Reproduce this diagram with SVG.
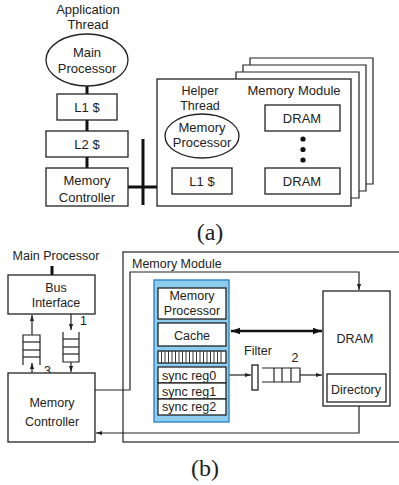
<svg xmlns="http://www.w3.org/2000/svg" width="399" height="485" viewBox="0 0 399 485">
<defs>
<style>
.t{font-family:"Liberation Sans",Arial,sans-serif;fill:#222;}
.a{font-size:13px;text-anchor:middle;}
.b{font-size:12.5px;}
.m{text-anchor:middle;}
.box{fill:#fff;stroke:#222;stroke-width:1.3;}
.ln{fill:none;stroke:#222;stroke-width:1.2;}
.thick{fill:none;stroke:#111;stroke-width:3;}
.cap{font-family:"Liberation Serif","Times New Roman",serif;font-size:24px;fill:#222;text-anchor:middle;}
</style>
<marker id="ah" viewBox="0 0 10 10" refX="10" refY="5" markerWidth="6" markerHeight="6" orient="auto" markerUnits="userSpaceOnUse">
<path d="M0,1.5 L10,5 L0,8.5 z" fill="#222"/>
</marker>
<marker id="ahb" viewBox="0 0 10 10" refX="10" refY="5" markerWidth="9" markerHeight="9" orient="auto-start-reverse" markerUnits="userSpaceOnUse">
<path d="M0,1.5 L10,5 L0,8.5 z" fill="#111"/>
</marker>
</defs>
<rect width="399" height="485" fill="#fff"/>

<!-- (a) connectors -->
<g id="connectors-a">
<line class="thick" x1="87" y1="86" x2="87" y2="94"/>
<line class="thick" x1="87" y1="120" x2="87" y2="131"/>
<line class="thick" x1="87" y1="157" x2="87" y2="168"/>
<line class="thick" x1="128" y1="187" x2="157" y2="187"/>
<line class="thick" x1="143" y1="139" x2="143" y2="205"/>
<line class="thick" x1="202" y1="158" x2="202" y2="168"/>
</g>

<g id="app-thread"><text class="t a" x="88" y="14">Application</text><text class="t a" x="88" y="29">Thread</text></g>
<g id="main-processor-a">
<ellipse cx="87" cy="60" rx="41" ry="26" class="box"/>
<text class="t a" x="87" y="57">Main</text><text class="t a" x="87" y="73">Processor</text>
</g>
<g id="l1-a"><rect class="box" x="57" y="94" width="60" height="26"/><text class="t a" x="87" y="112">L1 $</text></g>
<g id="l2-a"><rect class="box" x="46" y="131" width="82" height="26"/><text class="t a" x="87" y="149">L2 $</text></g>
<g id="memctrl-a"><rect class="box" x="46" y="168" width="82" height="38"/><text class="t a" x="87" y="185">Memory</text><text class="t a" x="87" y="202">Controller</text></g>

<g id="memory-module-a">
<polyline class="ln" points="250,65 250,58 373,58 373,184 366,184"/>
<polyline class="ln" points="243,72 243,65 366,65 366,191 359,191"/>
<polyline class="ln" points="236,79 236,72 359,72 359,198 351,198"/>
<rect class="box" x="157" y="79" width="194" height="127"/>
<text class="t a" x="294" y="95">Memory Module</text>
<text class="t" x="200" y="95" font-size="12.5" text-anchor="middle">Helper</text><text class="t" x="200" y="109.5" font-size="12.5" text-anchor="middle">Thread</text>
<g id="memory-processor-a">
<ellipse cx="202" cy="136" rx="37" ry="22" class="box"/>
<text class="t a" x="202" y="132">Memory</text><text class="t a" x="202" y="147">Processor</text>
</g>
<g id="l1-helper"><rect class="box" x="172" y="168" width="60" height="26"/><text class="t a" x="202" y="186">L1 $</text></g>
<g id="dram-a1"><rect class="box" x="265" y="105" width="75" height="26"/><text class="t a" x="302" y="123">DRAM</text></g>
<circle cx="303" cy="139" r="2.6" fill="#111"/><circle cx="303" cy="149.5" r="2.6" fill="#111"/><circle cx="303" cy="160" r="2.6" fill="#111"/>
<g id="dram-a2"><rect class="box" x="265" y="168" width="75" height="26"/><text class="t a" x="302" y="186">DRAM</text></g>
</g>
<text class="cap" x="210" y="240">(a)</text>

<!-- (b) -->
<g id="memory-module-b">
<rect class="ln" x="123" y="252" width="290" height="190"/>
<text class="t b" x="132" y="268">Memory Module</text>
</g>

<g id="connectors-b">
<line class="thick" x1="52" y1="266" x2="52" y2="275"/>
<line class="ln" x1="32" y1="335" x2="32" y2="315" marker-end="url(#ah)"/>
<line class="ln" x1="32" y1="373" x2="32" y2="363" marker-end="url(#ah)"/>
<line class="ln" x1="71" y1="314" x2="71" y2="330" marker-end="url(#ah)"/>
<line class="ln" x1="71" y1="362" x2="71" y2="372" marker-end="url(#ah)"/>
<polyline class="ln" points="95,390 130,390 130,272 359,272 359,290" marker-end="url(#ah)"/>
<polyline class="ln" points="359,406 359,433 96,433" marker-end="url(#ah)"/>
<line x1="231" y1="331" x2="322" y2="331" stroke="#111" stroke-width="2.5" marker-start="url(#ahb)" marker-end="url(#ahb)"/>
<line class="ln" x1="226" y1="375" x2="251" y2="375" marker-end="url(#ah)"/>
<line class="ln" x1="300" y1="375" x2="322" y2="375" marker-end="url(#ah)"/>
</g>

<g id="main-processor-b"><text class="t b m" x="56" y="260">Main Processor</text></g>
<g id="bus-interface"><rect class="box" x="8" y="275" width="87" height="39"/><text class="t b m" x="56" y="292">Bus</text><text class="t b m" x="56" y="307">Interface</text></g>

<g id="queue-3">
<polyline class="ln" points="23,365 23,335 40,335 40,365"/>
<line class="ln" x1="23" y1="342" x2="40" y2="342"/>
<line class="ln" x1="23" y1="350" x2="40" y2="350"/>
<line class="ln" x1="23" y1="357" x2="40" y2="357"/>
<text class="t b" x="44" y="375">3</text>
</g>
<g id="queue-1">
<polyline class="ln" points="63,332 63,362 79,362 79,332"/>
<line class="ln" x1="63" y1="339" x2="79" y2="339"/>
<line class="ln" x1="63" y1="347" x2="79" y2="347"/>
<line class="ln" x1="63" y1="354" x2="79" y2="354"/>
<text class="t b" x="80" y="325">1</text>
</g>

<g id="memctrl-b"><rect class="box" x="8" y="373" width="87" height="69"/><text class="t b m" x="52" y="407">Memory</text><text class="t b m" x="52" y="426">Controller</text></g>

<g id="memory-processor-b">
<rect x="154" y="280" width="75" height="142" fill="#8ccdef" stroke="#3a8cc8" stroke-width="1.5"/>
<rect class="box" x="158" y="288" width="68" height="31"/>
<text class="t b m" x="192" y="300">Memory</text><text class="t b m" x="192" y="315">Processor</text>
<rect class="box" x="158" y="323" width="68" height="23"/>
<text class="t b m" x="192" y="340">Cache</text>
<rect class="box" x="158" y="351" width="68" height="12"/>
<path d="M161.5,351V363M165,351V363M168.5,351V363M172,351V363M175.5,351V363M179,351V363M182.5,351V363M186,351V363M189.5,351V363M193,351V363M196.5,351V363M200,351V363M203.5,351V363M207,351V363M210.5,351V363M214,351V363M217.5,351V363M221,351V363" stroke="#222" stroke-width="0.9"/>
<rect class="box" x="158" y="367" width="68" height="16"/>
<rect class="box" x="158" y="383" width="68" height="16"/>
<rect class="box" x="158" y="399" width="68" height="16"/>
<text class="t b" x="162" y="380">sync reg0</text>
<text class="t b" x="162" y="396">sync reg1</text>
<text class="t b" x="162" y="411">sync reg2</text>
</g>

<g id="filter"><rect class="box" x="252" y="365" width="6" height="25"/><text class="t b m" x="258" y="355">Filter</text></g>
<g id="queue-2">
<polyline class="ln" points="262,368 300,368 300,382 262,382"/>
<line class="ln" x1="274" y1="368" x2="274" y2="382"/>
<line class="ln" x1="282" y1="368" x2="282" y2="382"/>
<line class="ln" x1="291" y1="368" x2="291" y2="382"/>
<text class="t b m" x="295" y="362">2</text>
</g>

<g id="dram-b">
<rect class="box" x="323" y="291" width="67" height="115"/>
<text class="t b m" x="355" y="343">DRAM</text>
<rect class="box" x="327" y="374" width="59" height="28"/>
<text class="t b m" x="356" y="394">Directory</text>
</g>

<text class="cap" x="205" y="476">(b)</text>
</svg>
